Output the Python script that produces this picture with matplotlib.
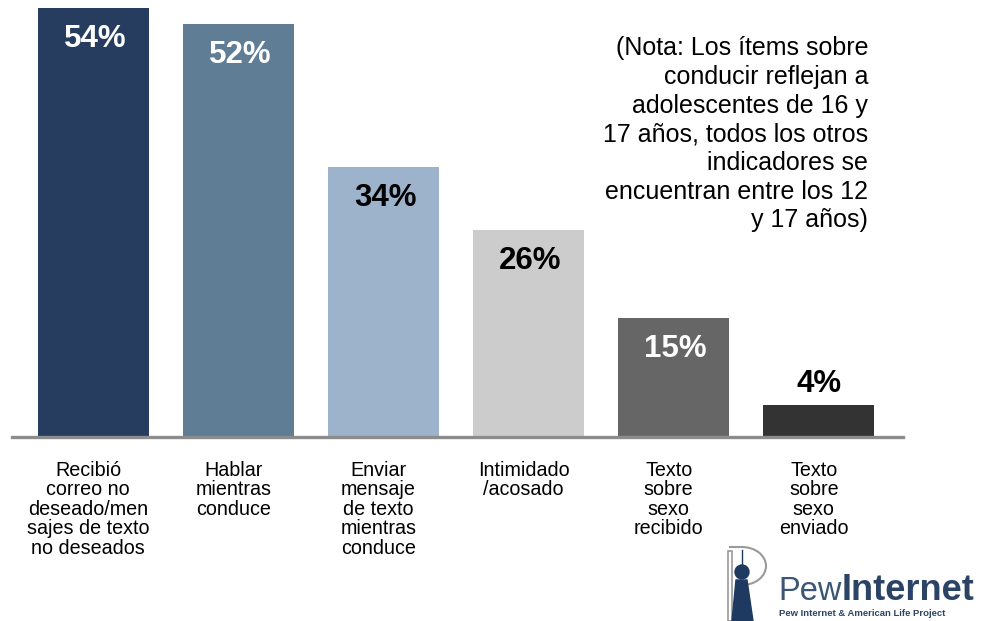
import matplotlib
matplotlib.use("Agg")
import matplotlib.pyplot as plt
from matplotlib.patches import Circle, Polygon, Arc, Rectangle

plt.rcParams['font.family'] = ['Liberation Sans', 'DejaVu Sans']

# datos
categorias = [
    "Recibió\ncorreo no\ndeseado/men\nsajes de texto\nno deseados",
    "Hablar\nmientras\nconduce",
    "Enviar\nmensaje\nde texto\nmientras\nconduce",
    "Intimidado\n/acosado",
    "Texto\nsobre\nsexo\nrecibido",
    "Texto\nsobre\nsexo\nenviado",
]
valores = [54, 52, 34, 26, 15, 4]
colores = ["#263d5f", "#5f7d95", "#9db3cc", "#cccccc", "#666666", "#333333"]
color_texto = ["white", "white", "black", "black", "white", "black"]

nota = ("(Nota: Los ítems sobre\nconducir reflejan a\nadolescentes de 16 y\n"
        "17 años, todos los otros\nindicadores se\nencuentran entre los 12\ny 17 años)")

W, H = 982, 621
fig = plt.figure(figsize=(W / 100, H / 100), dpi=100)
ax = fig.add_axes([12 / W, 184 / H, 891 / W, 437 / H])

x = list(range(len(valores)))
bars = ax.bar(x, valores, width=0.765, color=colores, zorder=2)
ax.set_xlim(-0.56, 5.58)
ax.set_ylim(0, 55)

for s in ["top", "left", "right"]:
    ax.spines[s].set_visible(False)
ax.spines["bottom"].set_color("#8c8c8c")
ax.spines["bottom"].set_linewidth(2.4)
ax.set_yticks([])
ax.set_xticks([])

# etiquetas de valor
for i, v in enumerate(valores):
    if v < 10:
        ax.annotate(f"{v}%", xy=(i, v), xytext=(0, 21), textcoords="offset pixels",
                    ha="center", va="center", fontsize=22.5, fontweight="bold",
                    color="black")
    else:
        ax.annotate(f"{v}%", xy=(i, v), xytext=(2, -31), textcoords="offset pixels",
                    ha="center", va="center", fontsize=22.5, fontweight="bold",
                    color=color_texto[i])

# etiquetas de categoría
for i, c in enumerate(categorias):
    ax.annotate(c, xy=(i, 0), xytext=(-5, -24), textcoords="offset pixels",
                ha="center", va="top", fontsize=14.2, linespacing=1.03,
                annotation_clip=False)

# nota
fig.text(868 / W, 1 - 36 / H, nota, ha="right", va="top", fontsize=18,
         linespacing=1.25)


# logo Pew Internet
def px(xp, yp):
    return (xp / W, 1 - yp / H)


navy = "#1f3a60"
gris = "#9a9a9a"
fig.patches.append(Rectangle(px(728, 621), 4 / W, 70 / H, transform=fig.transFigure,
                             facecolor="none", edgecolor=gris, lw=1.2))
fig.patches.append(Arc(px(742, 566), 48 / W, 38 / H, theta1=-90, theta2=90,
                       transform=fig.transFigure, color=gris, lw=1.5))
fig.lines.append(plt.Line2D([730 / W, 742 / W], [1 - 547 / H, 1 - 547 / H],
                            transform=fig.transFigure, color=gris, lw=1.5))
fig.lines.append(plt.Line2D([742 / W, 742 / W], [1 - 550 / H, 1 - 566 / H],
                            transform=fig.transFigure, color=navy, lw=1.0))
fig.patches.append(Polygon([px(736, 580), px(747, 580), px(753, 621), px(732, 621)],
                           closed=True, transform=fig.transFigure, color=navy))
fig.patches.append(Circle((742, H - 572), 7, transform=None, color=navy))

fig.text(778 / W, 1 - 600 / H, "Pew", fontsize=23.5, color="#3c5675", va="baseline")
fig.text(842 / W, 1 - 600 / H, "Internet", fontsize=26, fontweight="bold",
         color="#2b4466", va="baseline")
fig.text(779 / W, 1 - 613 / H, "Pew Internet & American Life Project", fontsize=6.8,
         fontweight="bold", color="#2b4466", va="center")

fig.savefig("out.png", dpi=100)
